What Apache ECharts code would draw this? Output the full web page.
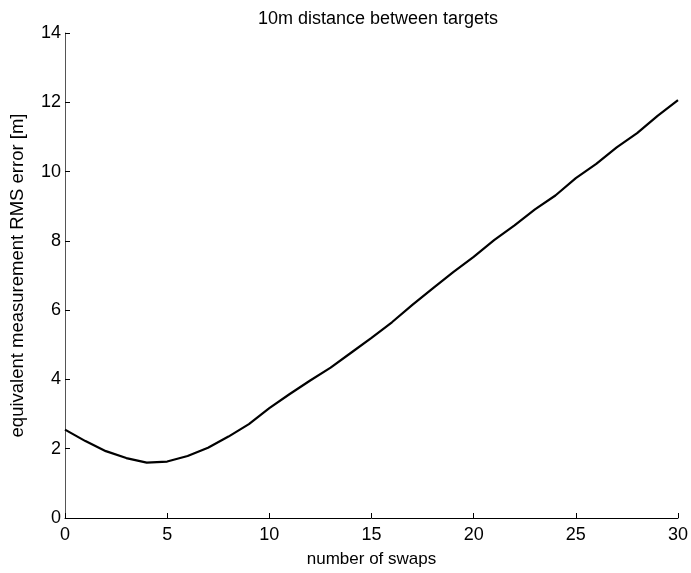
<!DOCTYPE html>
<html>
<head>
<meta charset="utf-8">
<script src="https://cdn.jsdelivr.net/npm/echarts@6/dist/echarts.min.js"></script>
<style>
html,body{margin:0;padding:0;background:#fff;}
#chart{width:691px;height:573px;}
</style>
</head>
<body>
<div id="chart"></div>
<script>
const titleText = "10m distance between targets";
const xName = "number of swaps";
const yName = "equivalent measurement RMS error [m]";
const swaps = [0,1,2,3,4,5,6,7,8,9,10,11,12,13,14,15,16,17,18,19,20,21,22,23,24,25,26,27,28,29,30];
const rmsError = [2.55,2.22,1.93,1.73,1.60,1.63,1.79,2.03,2.35,2.71,3.17,3.58,3.97,4.34,4.77,5.20,5.65,6.15,6.63,7.10,7.54,8.02,8.45,8.91,9.31,9.81,10.22,10.70,11.11,11.61,12.06];

const font = "'Liberation Sans', Arial, Helvetica, sans-serif";
const chart = echarts.init(document.getElementById('chart'), null, {renderer:'canvas'});
chart.setOption({
  animation:false,
  backgroundColor:'#ffffff',
  title:{
    text:titleText, left:373, top:5, textAlign:'center',
    textStyle:{fontFamily:font, fontSize:18, fontWeight:'normal', color:'#000'}
  },
  grid:{left:65, right:10, top:33, bottom:52, containLabel:false},
  xAxis:{
    type:'value', min:0, max:30, interval:5,
    name:xName, nameLocation:'middle', nameGap:33,
    nameTextStyle:{fontFamily:font, fontSize:17, color:'#000'},
    axisLine:{show:true, onZero:false, lineStyle:{color:'#000', width:1}},
    axisTick:{show:true, inside:true, length:5, lineStyle:{color:'#000'}},
    axisLabel:{fontFamily:font, fontSize:18, color:'#000', margin:8},
    splitLine:{show:false}
  },
  yAxis:{
    type:'value', min:0, max:14, interval:2,
    name:yName, nameLocation:'middle', nameGap:38, nameRotate:90,
    nameTextStyle:{fontFamily:font, fontSize:18.5, color:'#000'},
    axisLine:{show:true, onZero:false, lineStyle:{color:'#555', width:1}},
    axisTick:{show:true, inside:true, length:5, lineStyle:{color:'#000'}},
    axisLabel:{fontFamily:font, fontSize:18, color:'#000', margin:4},
    splitLine:{show:false}
  },
  series:[{
    type:'line',
    data:swaps.map((x,i)=>[x, rmsError[i]]),
    showSymbol:false, symbol:'none', smooth:false,
    lineStyle:{color:'#000', width:2.2}
  }]
});
</script>
</body>
</html>
